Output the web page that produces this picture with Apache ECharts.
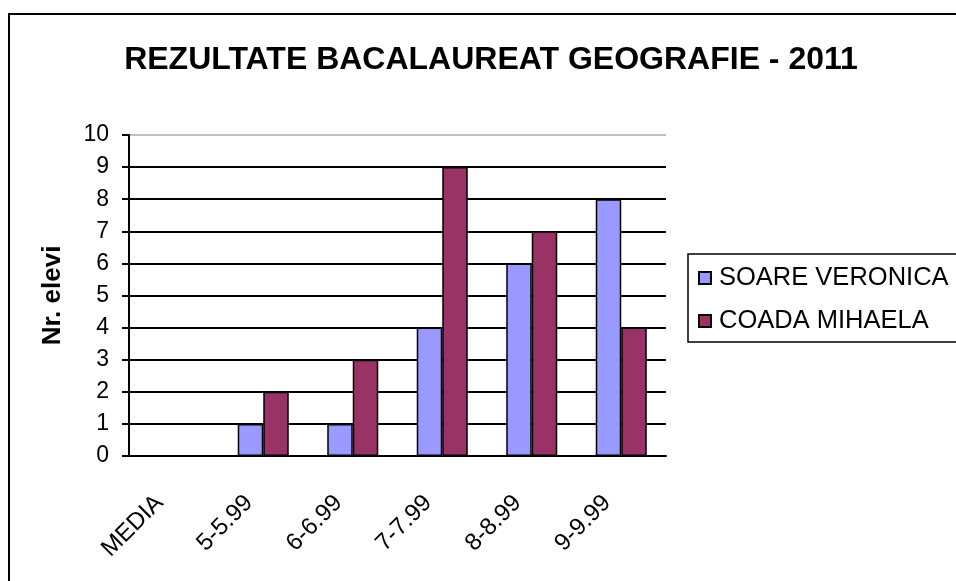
<!DOCTYPE html>
<html lang="en">
    <head>
        <meta charset="utf-8">
        <script src="https://cdn.jsdelivr.net/npm/echarts@6/dist/echarts.min.js"></script>
    </head>
    <style>
        *{
            margin:0 auto;
            padding:0;
        }
    </style>
    <body>
		<div id="main" style="width: 956px;height:581px;"></div>
    </body>
</html>
<script>
var categories = ['MEDIA', '5-5.99', '6-6.99', '7-7.99', '8-8.99', '9-9.99'];
var soareVeronica = [0, 1, 1, 4, 6, 8];
var coadaMihaela = [0, 2, 3, 9, 7, 4];
var yTicks = [0, 1, 2, 3, 4, 5, 6, 7, 8, 9, 10];

var font = 'Liberation Sans, Arial, sans-serif';
var myChart = echarts.init(document.getElementById('main'));

// gridlines black, the top one (10) light grey
var splitColors = yTicks.map(function (v) {
    return v === 10 ? '#c0c0c0' : '#000';
});

var option = {
    backgroundColor: '#fff',
    animation: false,
    title: {
        text: 'REZULTATE BACALAUREAT GEOGRAFIE - 2011',
        left: 486,
        textAlign: 'center',
        top: 39,
        textStyle: {
            fontFamily: font,
            fontWeight: 'bold',
            fontSize: 32,
            color: '#000'
        }
    },
    graphic: [{
        type: 'rect',
        shape: { x: 9, y: 14, width: 1000, height: 620 },
        style: { fill: 'none', stroke: '#000', lineWidth: 2 },
        silent: true
    }],
    legend: {
        orient: 'vertical',
        left: 688,
        top: 254,
        width: 270,
        padding: [11, 40, 8, 10],
        itemGap: 17,
        itemWidth: 12,
        itemHeight: 12,
        borderColor: '#000',
        borderWidth: 1.5,
        icon: 'rect',
        textStyle: {
            fontFamily: font,
            fontSize: 25.5,
            color: '#000',
            padding: [0, 0, 0, 3]
        },
        data: ['SOARE VERONICA', 'COADA MIHAELA']
    },
    grid: {
        left: 129,
        right: 290,
        top: 135,
        bottom: 125
    },
    xAxis: {
        type: 'category',
        data: categories,
        axisLine: { lineStyle: { color: '#000', width: 2 } },
        axisTick: { length: 7, lineStyle: { color: '#000', width: 2 } },
        axisLabel: {
            rotate: 45,
            margin: 29,
            padding: [0, 20, 0, 0],
            fontFamily: font,
            fontSize: 24,
            color: '#000'
        }
    },
    yAxis: {
        type: 'value',
        min: 0,
        max: 10,
        interval: 1,
        name: 'Nr. elevi',
        nameLocation: 'middle',
        nameGap: 63,
        nameTextStyle: {
            fontFamily: font,
            fontWeight: 'bold',
            fontSize: 26,
            color: '#000'
        },
        axisLine: { show: true, lineStyle: { color: '#000', width: 2 } },
        axisTick: { show: true, length: 7, lineStyle: { color: '#000', width: 2 } },
        axisLabel: {
            margin: 20,
            fontFamily: font,
            fontSize: 23,
            color: '#000'
        },
        splitLine: { lineStyle: { color: splitColors, width: 2 } }
    },
    series: [{
        name: 'SOARE VERONICA',
        type: 'bar',
        data: soareVeronica,
        barGap: '0%',
        barCategoryGap: '43%',
        itemStyle: { color: '#9999ff', borderColor: '#000', borderWidth: 1.5 }
    }, {
        name: 'COADA MIHAELA',
        type: 'bar',
        data: coadaMihaela,
        itemStyle: { color: '#993366', borderColor: '#000', borderWidth: 1.5 }
    }]
};

myChart.setOption(option);
</script>
